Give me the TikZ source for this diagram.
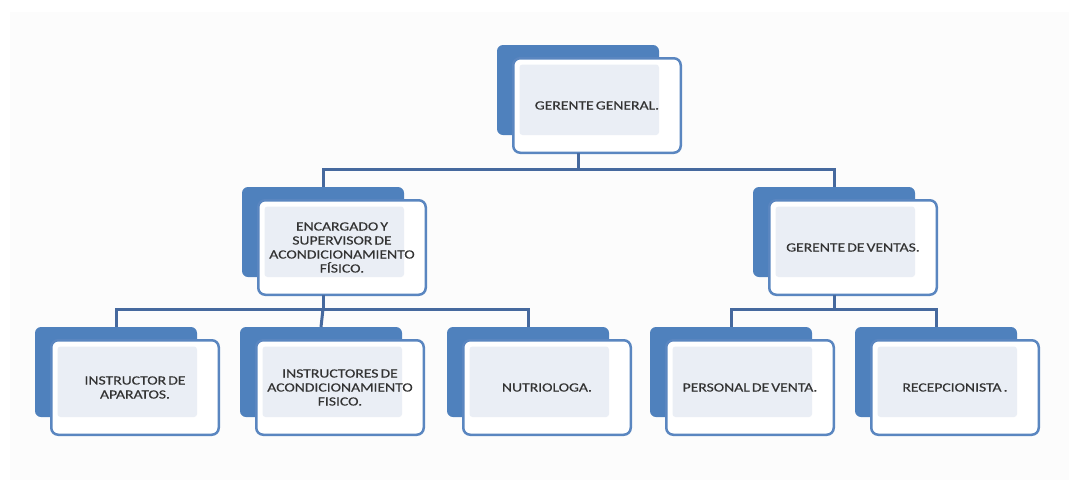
\documentclass[tikz,border=0pt]{standalone}
\usepackage{fontspec}
\newfontfamily\boxfont[FakeStretch=1.25,FakeBold=0.5,WordSpace=0.6]{Carlito}
\definecolor{backblue}{HTML}{4F81BD}
\definecolor{edgeblue}{HTML}{5A86C0}
\definecolor{linkblue}{HTML}{46699E}
\definecolor{overlapgray}{HTML}{EAEEF5}
\definecolor{txtgray}{HTML}{333333}
\definecolor{bggray}{HTML}{FCFCFC}
\tikzset{
  backbox/.style={fill=backblue, draw=none, rounded corners=6pt,
    minimum width=162pt, minimum height=90pt, inner sep=0pt, outer sep=0pt, anchor=north west},
  frontbox/.style={fill=white, draw=edgeblue, line width=2.5pt, rounded corners=7pt,
    minimum width=167.5pt, minimum height=94.5pt, inner sep=0pt, outer sep=0pt, anchor=north west},
  lbl/.style={font=\boxfont\fontsize{12.5}{14}\selectfont, text=txtgray, align=center, inner sep=0pt},
  link/.style={draw=linkblue, line width=3pt}
}
\newcommand\orgunit[4]{%
  \node[backbox] (#1b) at (#2,#3) {};
  \node[frontbox] (#1) at (#2+16.25,#3+13.25) {};
  \fill[overlapgray, rounded corners=3pt] (#2+22.5,#3+19.5) rectangle (#2+162,#3+90);
  \node[lbl] (#1t) at (#1.center) {#4};
}
\begin{document}
\begin{tikzpicture}[x=1pt,y=-1pt]
\useasboundingbox (0,0) rectangle (1079,493);
\fill[bggray] (10,12) rectangle (1069,480);
% units
\orgunit{g}{497}{45}{GERENTE GENERAL.}
\orgunit{e}{242}{187}{ENCARGADO Y\\SUPERVISOR DE\\ACONDICIONAMIENTO\\FÍSICO.}
\orgunit{v}{753}{187}{GERENTE DE VENTAS.}
\orgunit{ia}{35}{327}{INSTRUCTOR DE\\APARATOS.}
\orgunit{ib}{240}{327}{INSTRUCTORES DE\\ACONDICIONAMIENTO\\FISICO.}
\orgunit{n}{447}{327}{NUTRIOLOGA.}
\orgunit{p}{650}{327}{PERSONAL DE VENTA.}
\orgunit{r}{855}{327}{RECEPCIONISTA .}
% bus levels
\coordinate (busA) at (0,169);
\coordinate (busB) at (0,309);
% connectors
\draw[link] (gb.center |- g.south) -- (gb.center |- busA) -| (eb.north);
\draw[link] (gb.center |- busA) -| (vb.north);
\draw[link] (eb.center |- e.south) -- (eb.center |- busB) -| (iab.north);
\draw[link] (eb.center |- busB) -- (ibb.north);
\draw[link] (eb.center |- busB) -| (nb.north);
\draw[link] (vb.center |- v.south) -- (vb.center |- busB) -| (pb.north);
\draw[link] (vb.center |- busB) -| (rb.north);
\end{tikzpicture}
\end{document}
